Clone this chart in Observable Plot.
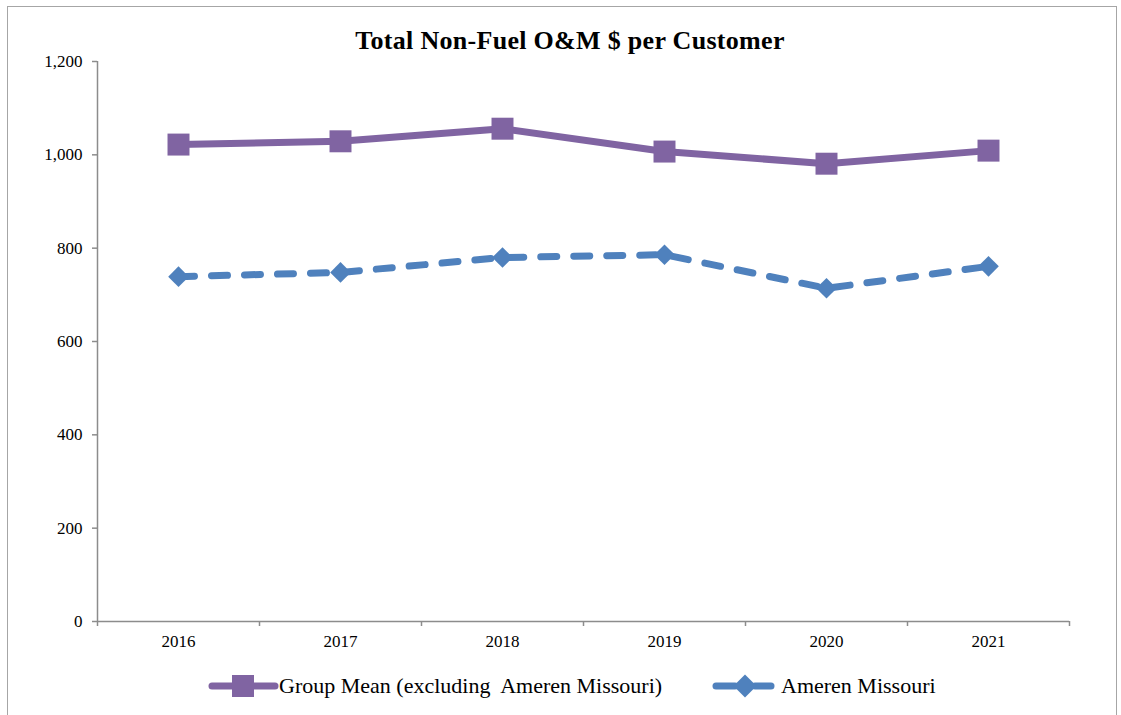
<!DOCTYPE html>
<html>
<head>
<meta charset="utf-8">
<script src="https://cdn.jsdelivr.net/npm/d3@7"></script>
<script src="https://cdn.jsdelivr.net/npm/@observablehq/plot@0.6"></script>
<style>
  body { margin: 0; background: #fff; }
  #page { position: relative; width: 1121px; height: 715px; overflow: hidden; font-family: "Liberation Serif", "DejaVu Serif", serif; }
  #frame { position: absolute; left: 7px; top: 6px; width: 1110px; height: 730px; border: 1.5px solid #a6a6a6; box-sizing: border-box; }
  #title { position: relative; height: 50px; box-sizing: border-box; padding-top: 28px; padding-left: 19px; text-align: center; font-weight: bold; font-size: 26px; letter-spacing: 0.3px; line-height: 26px; color: #000; }
  #plot svg { display: block; }
  #legend { position: relative; height: 55px; font-size: 22px; color: #000; }
  .item { position: absolute; top: 0; height: 52px; display: flex; align-items: center; }
  .item span { white-space: pre; margin-left: 0px; }
</style>
</head>
<body>
<div id="page">
  <div id="frame"></div>
  <div id="title">Total Non-Fuel O&amp;M $ per Customer</div>
  <div id="plot"></div>
  <div id="legend"></div>
</div>
<script>
const years = [2016, 2017, 2018, 2019, 2020, 2021];
const groupMean = [1022, 1029, 1056, 1007, 981, 1009];
const ameren = [739, 748, 780, 786, 714, 761];
const yTicks = [0, 200, 400, 600, 800, 1000, 1200];
const seriesNames = ["Group Mean (excluding  Ameren Missouri)", "Ameren Missouri"];
const colors = ["#8064A2", "#4F81BD"];

const gm = years.map((y, i) => ({year: y, value: groupMean[i]}));
const am = years.map((y, i) => ({year: y, value: ameren[i]}));
const bounds = years.map(y => y - 0.5).concat([years[years.length - 1] + 0.5]);

const chart = Plot.plot({
  width: 1121,
  height: 610,
  marginTop: 11,
  marginBottom: 39,
  marginLeft: 97,
  marginRight: 52,
  x: {domain: [bounds[0], bounds[bounds.length - 1]]},
  y: {domain: [0, 1200]},
  style: {fontFamily: "'Liberation Serif', 'DejaVu Serif', serif", fontSize: "17px", color: "#000", background: "transparent"},
  marks: [
    Plot.ruleX([bounds[0]], {stroke: "#8c8c8c", strokeWidth: 1.5}),
    Plot.ruleY([0], {stroke: "#8c8c8c", strokeWidth: 1.5}),
    Plot.axisY({ticks: yTicks, tickSize: 5, tickPadding: 10, tickFormat: d3.format(","), stroke: "#8c8c8c", strokeWidth: 1.5, label: null}),
    Plot.axisX({ticks: bounds, tickSize: 5, tickFormat: () => "", stroke: "#8c8c8c", strokeWidth: 1.5, label: null}),
    Plot.axisX({ticks: years, tickSize: 0, tickPadding: 13, tickFormat: d => String(d), label: null}),
    Plot.line(gm, {x: "year", y: "value", stroke: colors[0], strokeWidth: 7, strokeLinecap: "round", strokeLinejoin: "round"}),
    Plot.dot(gm, {x: "year", y: "value", symbol: "square", r: 12.4, fill: colors[0], stroke: "none"}),
    Plot.line(am, {x: "year", y: "value", stroke: colors[1], strokeWidth: 7, strokeDasharray: "16,17", strokeLinecap: "round", strokeLinejoin: "round"}),
    Plot.dot(am, {x: "year", y: "value", symbol: "diamond2", r: 9.3, fill: colors[1], stroke: "none"})
  ]
});
document.getElementById("plot").appendChild(chart);

// legend
const legend = document.getElementById("legend");
const items = [
  {left: 205, name: seriesNames[0], color: colors[0], svg: `<svg width="74" height="30"><line x1="7" y1="15" x2="70" y2="15" stroke="${colors[0]}" stroke-width="7" stroke-linecap="round"/><rect x="27" y="4" width="22" height="22" fill="${colors[0]}"/></svg>`},
  {left: 709, name: seriesNames[1], color: colors[1], svg: `<svg width="72" height="30"><line x1="7" y1="15" x2="26" y2="15" stroke="${colors[1]}" stroke-width="7" stroke-linecap="round"/><line x1="46" y1="15" x2="62" y2="15" stroke="${colors[1]}" stroke-width="7" stroke-linecap="round"/><path d="M36,3.5 L47.5,15 L36,26.5 L24.5,15 Z" fill="${colors[1]}"/></svg>`}
];
for (const it of items) {
  const d = document.createElement("div");
  d.className = "item";
  d.style.left = it.left + "px";
  d.innerHTML = it.svg + `<span>${it.name}</span>`;
  legend.appendChild(d);
}
</script>
</body>
</html>
